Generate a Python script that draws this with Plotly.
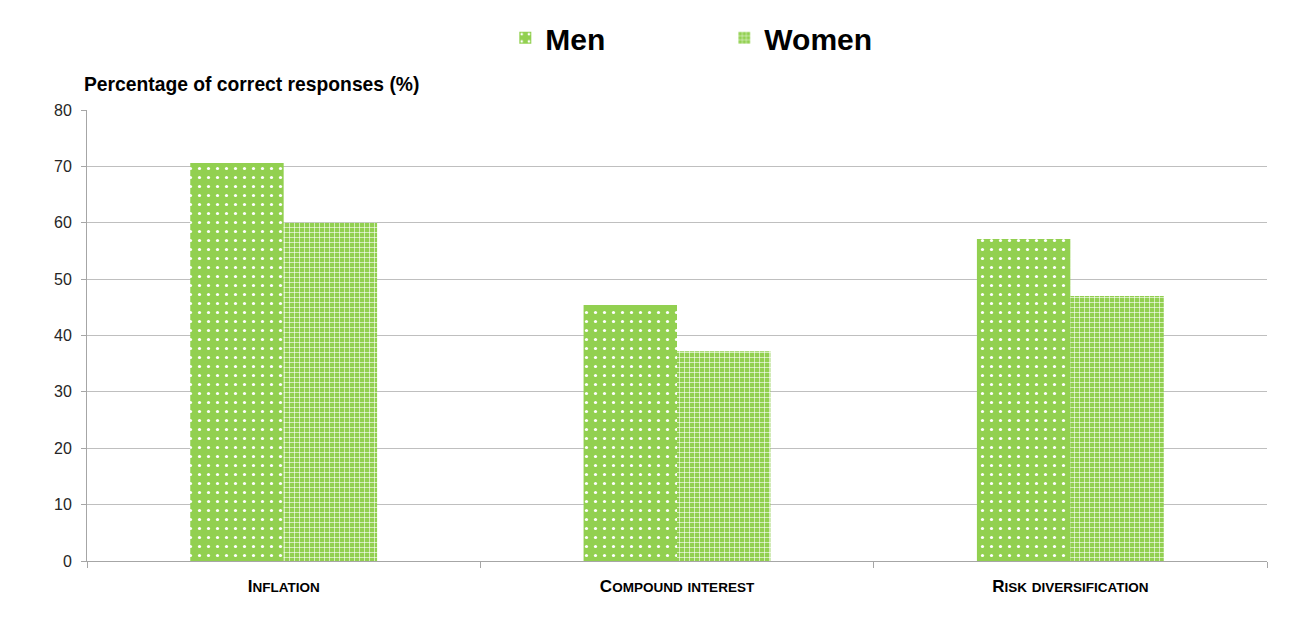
import plotly.graph_objects as go

categories = ["Inflation", "Compound interest", "Risk diversification"]
men = [70.6, 45.4, 57.1]
women = [60.0, 37.2, 47.0]
yticks = [0, 10, 20, 30, 40, 50, 60, 70, 80]

def smallcaps(s):
    out = []
    for w_i, word in enumerate(s.split(" ")):
        if w_i == 0:
            out.append(word[0].upper() + "<span style='font-size:13.5px'>" + word[1:].upper() + "</span>")
        else:
            out.append("<span style='font-size:13.5px'>" + word.upper() + "</span>")
    return "<b>" + " ".join(out) + "</b>"

labels = [smallcaps(c) for c in categories]
green = "#92D050"

fig = go.Figure()
fig.add_bar(x=labels, y=men, name="<b>Men</b>",
            marker=dict(color=green, line=dict(width=0),
                        pattern=dict(shape=".", fillmode="replace", fgcolor="white",
                                     bgcolor=green, size=9, solidity=0.1)))
fig.add_bar(x=labels, y=women, name="<b>Women</b>",
            marker=dict(color=green, line=dict(width=0),
                        pattern=dict(shape="+", fillmode="replace", fgcolor="white",
                                     bgcolor=green, size=5, solidity=0.22)))

fig.update_layout(
    width=1299, height=616,
    margin=dict(l=79, r=40, t=102, b=63, autoexpand=False),
    plot_bgcolor="white", paper_bgcolor="white",
    barmode="group", bargap=0.525, bargroupgap=0,
    font=dict(family="Liberation Sans, Arial, sans-serif", color="#000000"),
    legend=dict(orientation="h", x=0.3545, xanchor="left", y=1.16, yref="paper",
                yanchor="middle", font=dict(size=30, family="Liberation Sans, Arial", color="black"),
                entrywidth=174, traceorder="normal"),
    showlegend=True,
)
fig.update_yaxes(range=[0, 80], tickvals=yticks, showgrid=True, gridcolor="#BFBFBF", gridwidth=1,
                 showline=True, linecolor="#A6A6A6", ticks="outside", ticklen=5, tickcolor="#A6A6A6",
                 tickfont=dict(size=16, color="#262626"), zeroline=False, automargin=False,
                 ticklabelstandoff=6)
fig.update_xaxes(showline=True, linecolor="#A6A6A6", ticks="outside", tickson="boundaries",
                 ticklen=6, tickcolor="#A6A6A6", automargin=False, ticklabelstandoff=10,
                 tickfont=dict(size=17, color="black", family="Liberation Sans, Arial"))
fig.add_annotation(text="<b>Percentage of correct responses (%)</b>", xref="paper", yref="paper",
                   x=-0.004, y=1.0, yshift=13, xanchor="left", yanchor="bottom", showarrow=False,
                   font=dict(size=19.3, color="black"))
fig.write_html("out.html")
